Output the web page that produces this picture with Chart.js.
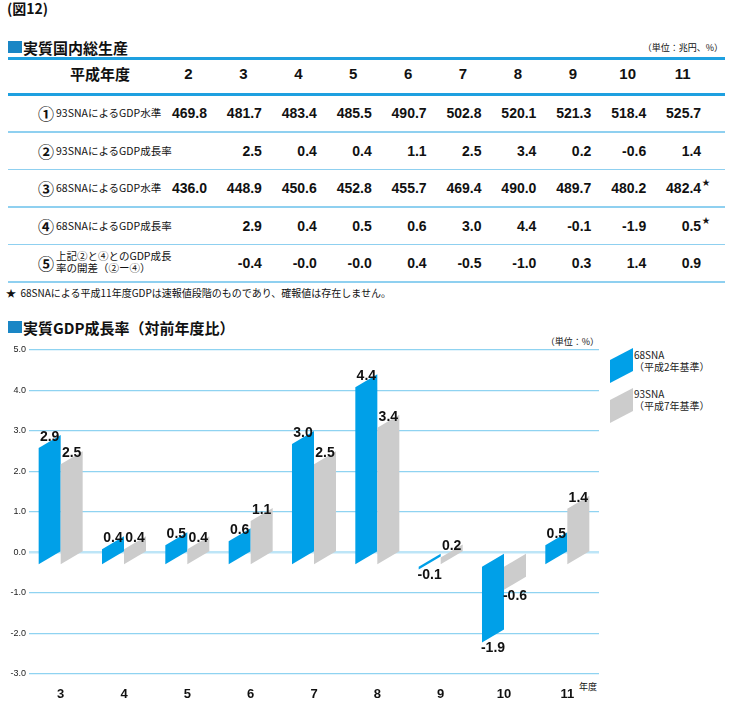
<!DOCTYPE html>
<html>
<head>
<meta charset="utf-8">
<title>実質GDP成長率</title>
<script src="https://cdn.jsdelivr.net/npm/chart.js@4.4.0/dist/chart.umd.min.js"></script>
<style>
  body { margin:0; width:731px; height:704px; position:relative; overflow:hidden; background:#fff;
         font-family:"Noto Sans CJK JP", sans-serif; color:#111; }
  .t { position:absolute; white-space:nowrap; line-height:1; transform:translateY(-50%); }
  .num { font-family:"Liberation Sans", Arial, sans-serif; font-weight:bold; font-size:14px; }
  .line { position:absolute; left:8px; width:717px; }
  .sq { position:absolute; background:#1a86c5; }
  .leg { position:absolute; width:23px; height:35px; clip-path:polygon(0 12px, 100% 0, 100% 23px, 0 100%); }
  .legtxt { position:absolute; font-size:10px; line-height:12px; color:#222; white-space:nowrap; }
</style>
</head>
<body>
<div class="t" style="left:7px;top:8px;font-size:14px;font-weight:bold;">(図12)</div>

<div class="sq" style="left:8px;top:41px;width:14px;height:12px;"></div>
<div class="t" style="left:23px;top:47px;font-size:15px;font-weight:bold;">実質国内総生産</div>
<div class="t" style="right:8px;top:47px;font-size:9px;">（単位：兆円、%）</div>
<div class="line" style="top:57px;height:3px;background:#1ea0e0;"></div>
<div class="t" style="left:70px;top:73px;font-size:15px;font-weight:bold;">平成年度</div>
<div class="line" style="top:93px;height:3px;background:#1ea0e0;"></div>
<div id="table"></div>
<div class="t" style="left:6px;top:293px;font-size:10px;">★&nbsp;&nbsp;68SNAによる平成11年度GDPは速報値段階のものであり、確報値は存在しません。</div>

<div class="sq" style="left:8px;top:321px;width:14px;height:12px;"></div>
<div class="t" style="left:23px;top:327px;font-size:15px;font-weight:bold;">実質GDP成長率（対前年度比）</div>
<div class="t" style="right:132px;top:341px;font-size:9px;">（単位：%）</div>
<div class="t" style="left:579px;top:686px;font-size:9px;">年度</div>

<div class="leg" style="left:610px;top:348px;background:#00a0e8;"></div>
<div class="legtxt" style="left:634px;top:349px;">68SNA<br>（平成2年基準）</div>
<div class="leg" style="left:610px;top:388px;background:#cccccc;"></div>
<div class="legtxt" style="left:634px;top:388px;">93SNA<br>（平成7年基準）</div>

<canvas id="gdpChart" width="610" height="364" style="position:absolute;left:0;top:340px;"></canvas>

<script>
// table data (trillion yen / %)
var tableYears = ['2', '3', '4', '5', '6', '7', '8', '9', '10', '11'];
var gdp93    = ['469.8', '481.7', '483.4', '485.5', '490.7', '502.8', '520.1', '521.3', '518.4', '525.7'];
var growth93 = ['', '2.5', '0.4', '0.4', '1.1', '2.5', '3.4', '0.2', '-0.6', '1.4'];
var gdp68    = ['436.0', '448.9', '450.6', '452.8', '455.7', '469.4', '490.0', '489.7', '480.2', '482.4'];
var growth68 = ['', '2.9', '0.4', '0.5', '0.6', '3.0', '4.4', '-0.1', '-1.9', '0.5'];
var gapRow   = ['', '-0.4', '-0.0', '-0.0', '0.4', '-0.5', '-1.0', '0.3', '1.4', '0.9'];
var rowMarks = ['①', '②', '③', '④', '⑤'];
var rowNames = ['93SNAによるGDP水準', '93SNAによるGDP成長率', '68SNAによるGDP水準',
                '68SNAによるGDP成長率', '上記②と④とのGDP成長<br>率の開差（②ー④）'];
var starredRows = [2, 3];

// chart data (%)
var chartYears = ['3', '4', '5', '6', '7', '8', '9', '10', '11'];
var sna68 = [2.9, 0.4, 0.5, 0.6, 3.0, 4.4, -0.1, -1.9, 0.5];
var sna93 = [2.5, 0.4, 0.4, 1.1, 2.5, 3.4, 0.2, -0.6, 1.4];
var seriesColors = ['#00a0e8', '#cccccc'];

// build the table
var rows = [gdp93, growth93, gdp68, growth68, gapRow];
var html = '';
function colRight(i) { return 207 + i * 54.9; }
tableYears.forEach(function(y, i) {
  html += '<div class="t num" style="font-size:15px;top:73px;left:' + (colRight(i) - 18.5) +
          'px;transform:translate(-50%,-50%);">' + y + '</div>';
});
rows.forEach(function(row, r) {
  var cy = 113 + r * 37.5;
  html += '<div class="t" style="left:38px;top:' + cy + 'px;font-size:16px;font-weight:bold;">' + rowMarks[r] + '</div>';
  if (r < 4) {
    html += '<div class="t" style="left:56px;top:' + cy + 'px;font-size:10.5px;">' + rowNames[r] + '</div>';
  } else {
    html += '<div class="t" style="left:56px;top:' + (cy - 0.5) + 'px;font-size:10.5px;line-height:12.6px;">' + rowNames[r] + '</div>';
  }
  row.forEach(function(v, i) {
    if (!v) return;
    html += '<div class="t num" style="top:' + cy + 'px;right:' + (731 - colRight(i)) + 'px;">' + v + '</div>';
    if (i === row.length - 1 && starredRows.indexOf(r) >= 0) {
      html += '<div class="t" style="top:' + (cy - 6) + 'px;left:' + (colRight(i) + 1) + 'px;font-size:8px;">★</div>';
    }
  });
  html += '<div class="line" style="top:' + (cy + 18) + 'px;height:1.5px;background:#8fd0f0;"></div>';
});
document.getElementById('table').innerHTML = html;

// parallelogram bars + value labels
var skewBars = {
  id: 'skewBars',
  afterDatasetsDraw: function(chart) {
    var ctx = chart.ctx;
    var s = 13;
    var labels = [];
    chart.data.datasets.forEach(function(ds, i) {
      var meta = chart.getDatasetMeta(i);
      meta.data.forEach(function(bar, j) {
        var p = bar.getProps(['x', 'y', 'base', 'width'], true);
        var l = p.x - p.width / 2, r = p.x + p.width / 2;
        ctx.save();
        ctx.fillStyle = seriesColors[i];
        ctx.beginPath();
        ctx.moveTo(l, p.y + s);
        ctx.lineTo(r, p.y);
        ctx.lineTo(r, p.base);
        ctx.lineTo(l, p.base + s);
        ctx.closePath();
        ctx.fill();
        ctx.restore();
        labels.push({ x: p.x, y: p.y, v: ds.data[j] });
      });
    });
    ctx.save();
    ctx.font = 'bold 14px "Liberation Sans", Arial, sans-serif';
    ctx.fillStyle = '#111';
    ctx.textAlign = 'center';
    labels.forEach(function(lb) {
      if (lb.v >= 0) {
        ctx.textBaseline = 'alphabetic';
        ctx.fillText(lb.v.toFixed(1), lb.x, lb.y + 6);
      } else {
        ctx.textBaseline = 'top';
        ctx.fillText(lb.v.toFixed(1), lb.x, lb.y + s - 1);
      }
    });
    ctx.restore();
  }
};

var ctx = document.getElementById('gdpChart').getContext('2d');
var chart = new Chart(ctx, {
  type: 'bar',
  data: {
    labels: chartYears,
    datasets: [
      { label: '68SNA（平成2年基準）', data: sna68, backgroundColor: 'rgba(0,0,0,0)', borderWidth: 0 },
      { label: '93SNA（平成7年基準）', data: sna93, backgroundColor: 'rgba(0,0,0,0)', borderWidth: 0 }
    ]
  },
  options: {
    responsive: false,
    devicePixelRatio: 1,
    animation: false,
    categoryPercentage: 0.695,
    barPercentage: 1.0,
    layout: { padding: { top: 10, right: 11, left: 0, bottom: 0 } },
    plugins: { legend: { display: false }, tooltip: { enabled: false } },
    scales: {
      x: {
        grid: { display: false },
        border: { display: false },
        ticks: { color: '#111', padding: 5, font: { size: 13, weight: 'bold', family: '"Liberation Sans", Arial, sans-serif' } },
        afterFit: function(s) { s.height = 30; }
      },
      y: {
        min: -3,
        max: 5,
        border: { display: false },
        grid: {
          drawTicks: false,
          color: function(c) { return c.tick && c.tick.value === 0 ? '#bde5f7' : '#8fd3f1'; },
          lineWidth: function(c) { return c.tick && c.tick.value === 0 ? 2.5 : 1.2; }
        },
        ticks: {
          stepSize: 1,
          padding: 3,
          color: '#222',
          font: { size: 9, family: '"Liberation Sans", Arial, sans-serif' },
          callback: function(v) { return v.toFixed(1); }
        },
        afterFit: function(s) { s.width = 29; }
      }
    }
  },
  plugins: [skewBars]
});
</script>
</body>
</html>
